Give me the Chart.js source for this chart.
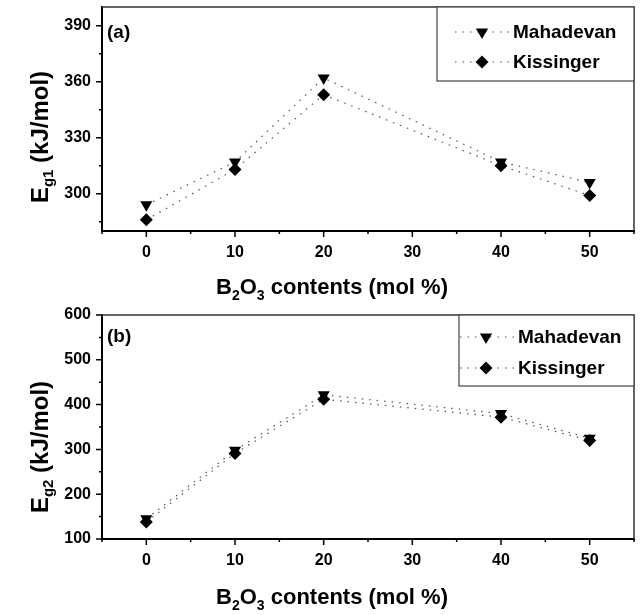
<!DOCTYPE html>
<html>
<head>
<meta charset="utf-8">
<script src="https://cdn.jsdelivr.net/npm/chart.js@4.4.0/dist/chart.umd.min.js"></script>
<style>
  html, body { margin: 0; padding: 0; background: #fff; }
  canvas { display: block; }
</style>
</head>
<body>
<canvas id="chartA" width="644" height="307"></canvas>
<canvas id="chartB" width="644" height="308"></canvas>
<script>
// B2O3 content (mol %)
var contents = [0, 10, 20, 40, 50];
var seriesNames = ['Mahadevan', 'Kissinger'];

// panel (a): Eg1 (kJ/mol)
var eg1Mahadevan = [294, 317, 362, 317, 306];
var eg1Kissinger = [286, 313, 353, 315, 299];

// panel (b): Eg2 (kJ/mol)
var eg2Mahadevan = [145, 298, 422, 380, 325];
var eg2Kissinger = [138, 291, 412, 372, 320];

var xTicks = [0, 10, 20, 30, 40, 50];
var xMinorTicks = [-5, 5, 15, 25, 35, 45, 55];
var yTicksA = [300, 330, 360, 390];
var yMinorTicksA = [285, 315, 345, 375];
var yTicksB = [100, 200, 300, 400, 500, 600];
var yMinorTicksB = [150, 250, 350, 450, 550];

var FONT = '"Liberation Sans", Arial, Helvetica, sans-serif';

function toPoints(xs, ys) {
  return xs.map(function(x, i) { return { x: x, y: ys[i] }; });
}

function marker(ctx, style, x, y, r) {
  ctx.beginPath();
  if (style === 'triangle') {
    ctx.moveTo(x - r * 0.87, y - r * 0.5);
    ctx.lineTo(x + r * 0.87, y - r * 0.5);
    ctx.lineTo(x, y + r);
  } else {
    ctx.moveTo(x, y - r);
    ctx.lineTo(x + r, y);
    ctx.lineTo(x, y + r);
    ctx.lineTo(x - r, y);
  }
  ctx.closePath();
  ctx.fillStyle = '#000';
  ctx.fill();
}

var decorPlugin = {
  id: 'decor',
  afterDraw: function(chart, args, opts) {
    var ctx = chart.ctx;
    var area = chart.chartArea;
    var xs = chart.scales.x, ys = chart.scales.y;
    ctx.save();

    // top and right frame
    ctx.strokeStyle = '#333';
    ctx.lineWidth = 1.5;
    ctx.beginPath();
    ctx.moveTo(area.left, area.top);
    ctx.lineTo(area.right, area.top);
    ctx.lineTo(area.right, area.bottom);
    ctx.stroke();

    // tick marks, outward
    ctx.strokeStyle = '#000';
    ctx.lineWidth = 1.5;
    ctx.beginPath();
    xTicks.concat(xMinorTicks).forEach(function(v) {
      var len = xTicks.indexOf(v) >= 0 ? 6 : 3;
      var px = xs.getPixelForValue(v);
      ctx.moveTo(px, area.bottom);
      ctx.lineTo(px, area.bottom + len);
    });
    opts.yMajor.concat(opts.yMinor).forEach(function(v) {
      var len = opts.yMajor.indexOf(v) >= 0 ? 6 : 3;
      var py = ys.getPixelForValue(v);
      ctx.moveTo(area.left, py);
      ctx.lineTo(area.left - len, py);
    });
    ctx.stroke();

    // panel label
    ctx.fillStyle = '#000';
    ctx.font = 'bold 19px ' + FONT;
    ctx.textAlign = 'left';
    ctx.textBaseline = 'middle';
    ctx.fillText(opts.panel, area.left + 5, area.top + opts.panelY);

    // x title: B2O3 contents (mol %)
    var big = 'bold 22px ' + FONT, small = 'bold 14px ' + FONT;
    var parts = [['B', big, 0], ['2', small, 6], ['O', big, 0], ['3', small, 6], [' contents (mol %)', big, 0]];
    ctx.textBaseline = 'alphabetic';
    var total = 0;
    parts.forEach(function(p) { ctx.font = p[1]; total += ctx.measureText(p[0]).width; });
    var cx = opts.xTitleX - total / 2;
    parts.forEach(function(p) {
      ctx.font = p[1];
      ctx.fillText(p[0], cx, opts.xTitleY + p[2]);
      cx += ctx.measureText(p[0]).width;
    });

    // y title: E_gN (kJ/mol), rotated
    var yBig = 'bold 24px ' + FONT, ySmall = 'bold 15px ' + FONT;
    var yParts = [['E', yBig, 0], [opts.ySub, ySmall, 5], [' (kJ/mol)', yBig, 0]];
    total = 0;
    yParts.forEach(function(p) { ctx.font = p[1]; total += ctx.measureText(p[0]).width; });
    ctx.save();
    ctx.translate(opts.yTitleX, opts.yTitleY);
    ctx.rotate(-Math.PI / 2);
    var tx = -total / 2;
    yParts.forEach(function(p) {
      ctx.font = p[1];
      ctx.fillText(p[0], tx, p[2]);
      tx += ctx.measureText(p[0]).width;
    });
    ctx.restore();

    // legend box with line + marker samples
    var lg = opts.legend;
    var bx = area.right - lg.w, by = area.top;
    ctx.fillStyle = '#fff';
    ctx.fillRect(bx, by, lg.w, lg.h);
    ctx.strokeStyle = '#444';
    ctx.lineWidth = 1.2;
    ctx.strokeRect(bx, by, lg.w, lg.h);
    chart.data.datasets.forEach(function(ds, i) {
      var ry = by + lg.rows[i];
      ctx.save();
      ctx.strokeStyle = '#555';
      ctx.lineWidth = 1.2;
      ctx.setLineDash([1.5, 6]);
      ctx.beginPath();
      ctx.moveTo(bx + lg.lineFrom, ry);
      ctx.lineTo(bx + lg.lineTo, ry);
      ctx.stroke();
      ctx.restore();
      marker(ctx, ds.pointStyle, bx + lg.marker, ry, ds.pointStyle === 'triangle' ? 7 : 6.5);
      ctx.fillStyle = '#000';
      ctx.font = 'bold 19px ' + FONT;
      ctx.textBaseline = 'middle';
      ctx.fillText(ds.label, bx + lg.text, ry + 1);
    });

    ctx.restore();
  }
};

function makeDataset(label, values, style, radius) {
  return {
    label: label,
    data: toPoints(contents, values),
    borderColor: '#555',
    borderWidth: 1.2,
    borderDash: [1.5, 6],
    backgroundColor: '#000',
    pointStyle: style,
    pointRotation: style === 'triangle' ? 180 : 0,
    pointRadius: radius,
    pointBorderWidth: 0,
    pointBorderColor: '#000',
    pointBackgroundColor: '#000',
    tension: 0,
    showLine: true
  };
}

function noScalePadding(s) {
  s.paddingTop = 0;
  s.paddingBottom = 0;
  s.paddingLeft = 0;
  s.paddingRight = 0;
}

function makeChart(id, mahadevan, kissinger, yMin, yMax, yMajor, yMinor, padTop, decor) {
  var tickFont = { family: FONT, size: 16, weight: 'bold' };
  decor.yMajor = yMajor;
  decor.yMinor = yMinor;
  return new Chart(document.getElementById(id), {
    type: 'scatter',
    data: {
      datasets: [
        makeDataset(seriesNames[0], mahadevan, 'triangle', 7),
        makeDataset(seriesNames[1], kissinger, 'rectRot', 6.5)
      ]
    },
    options: {
      responsive: false,
      animation: false,
      events: [],
      layout: { padding: { top: padTop, right: 10, left: 0, bottom: 0 } },
      plugins: {
        legend: { display: false },
        tooltip: { enabled: false },
        decor: decor
      },
      scales: {
        x: {
          type: 'linear',
          min: -5,
          max: 55,
          afterBuildTicks: function(s) { s.ticks = xTicks.map(function(v) { return { value: v }; }); },
          afterFit: function(s) { s.height = 76; noScalePadding(s); },
          grid: { display: false, drawTicks: false },
          border: { display: true, color: '#000', width: 2 },
          ticks: { color: '#000', font: tickFont, padding: 12, maxRotation: 0, autoSkip: false }
        },
        y: {
          type: 'linear',
          min: yMin,
          max: yMax,
          afterBuildTicks: function(s) { s.ticks = yMajor.map(function(v) { return { value: v }; }); },
          afterFit: function(s) { s.width = 102; noScalePadding(s); },
          grid: { display: false, drawTicks: false },
          border: { display: true, color: '#000', width: 2 },
          ticks: { color: '#000', font: tickFont, padding: 11, autoSkip: false }
        }
      }
    },
    plugins: [decorPlugin]
  });
}

makeChart('chartA', eg1Mahadevan, eg1Kissinger, 280, 400, yTicksA, yMinorTicksA, 7, {
  panel: '(a)', panelY: 26, ySub: 'g1',
  xTitleX: 332, xTitleY: 294,
  yTitleX: 48, yTitleY: 137,
  legend: { w: 197, h: 74, rows: [25, 55], lineFrom: 18, lineTo: 72, marker: 45, text: 76 }
});

makeChart('chartB', eg2Mahadevan, eg2Kissinger, 100, 600, yTicksB, yMinorTicksB, 8, {
  panel: '(b)', panelY: 22, ySub: 'g2',
  xTitleX: 332, xTitleY: 297,
  yTitleX: 48, yTitleY: 140,
  legend: { w: 175, h: 71, rows: [22, 53], lineFrom: 1, lineTo: 55, marker: 27, text: 59 }
});
</script>
</body>
</html>
